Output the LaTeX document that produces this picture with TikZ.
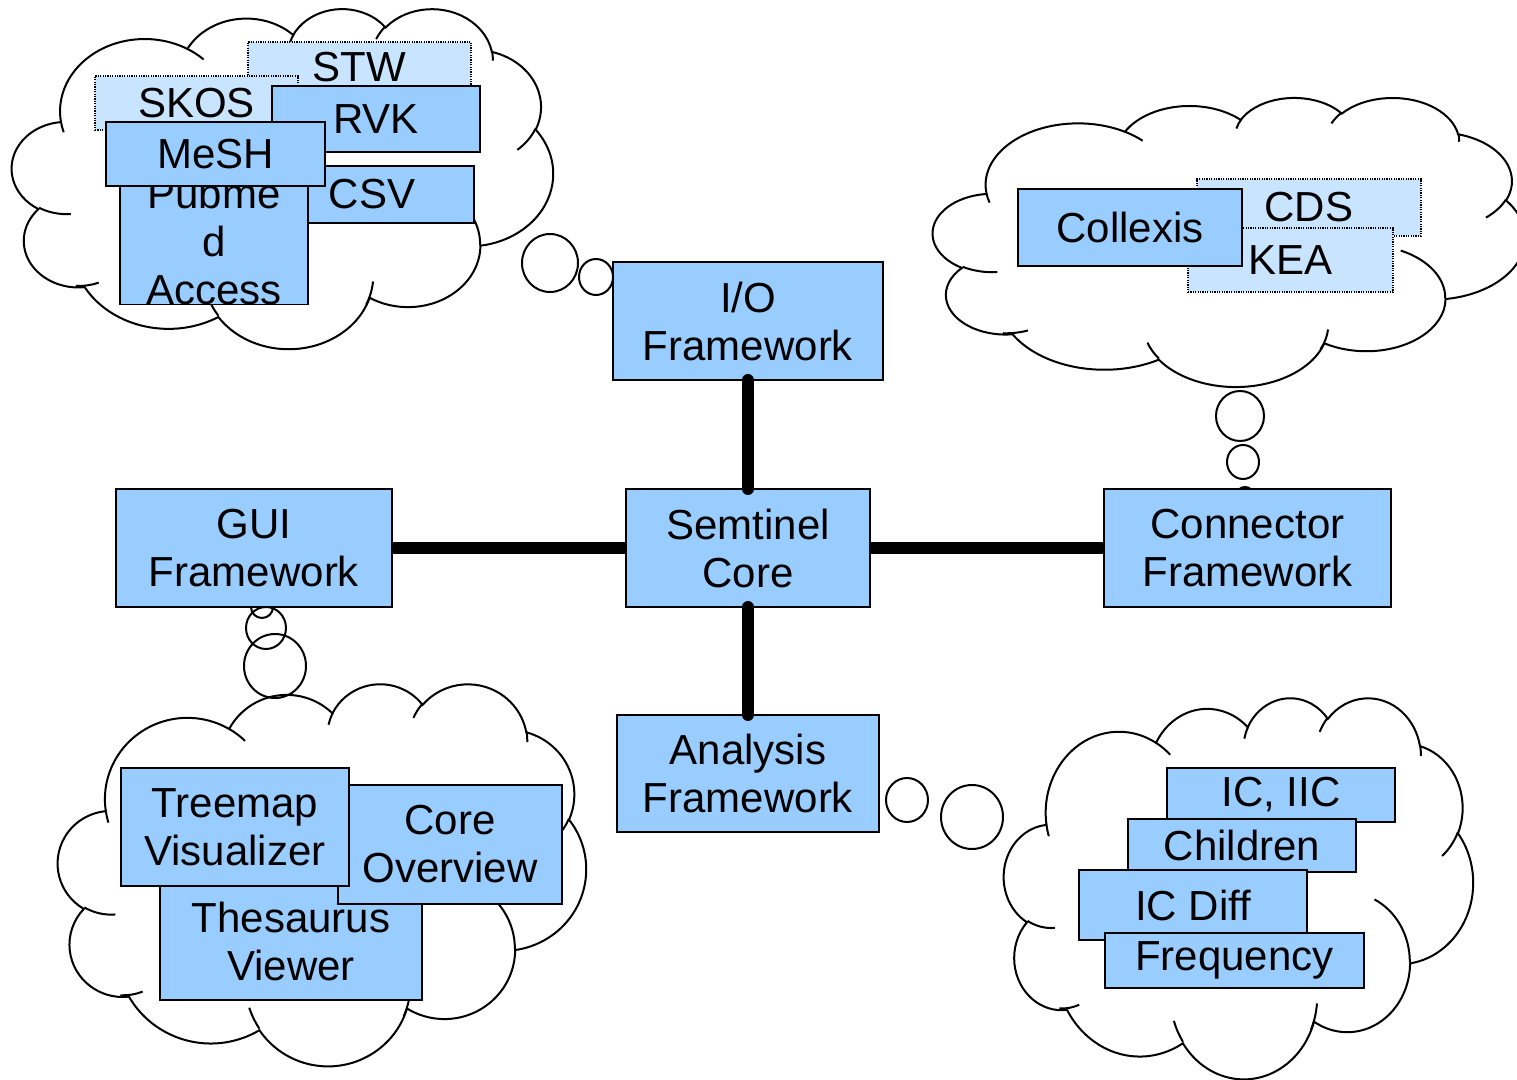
\documentclass[tikz,border=0pt]{standalone}
\usepackage{fontspec}
\setmainfont{Liberation Sans}
\definecolor{boxblue}{HTML}{99CCFF}
\definecolor{lightblue}{HTML}{C8E4FF}
\tikzset{
  mainbox/.style={draw=black, fill=boxblue, line width=0.8pt},
  dotbox/.style={draw=black, fill=lightblue, line width=0.9pt, dash pattern=on 0.6pt off 0.6pt},
  lbl/.style={font=\fontsize{21}{24}\selectfont, align=center},
  cloudline/.style={draw=black, line width=1pt},
  bubble/.style={draw=black, line width=1pt},
  conn/.style={draw=black, line width=6pt},
  ooarc/.style n args={4}{insert path={arc[start angle={atan2((#1)*sin(#3),(#2)*cos(#3))}, delta angle={mod(atan2((#1)*sin((#3)+(#4)),(#2)*cos((#3)+(#4)))-atan2((#1)*sin(#3),(#2)*cos(#3))+720,360)}, x radius=#1, y radius=#2]}},
}
% box: name, x1, y1, x2, y2, style, text   (pixel coordinates, y downwards)
\newcommand\bx[7]{\node[#6, lbl, minimum width={(#4-#2)*0.5pt}, minimum height={(#5-#3)*0.5pt}, inner sep=0pt, outer sep=0pt] (#1) at ({(#2+#4)/2},{-(#3+#5)/2}) {#7};}
% cloud: x0, y0, width, height (pixel coordinates)
\newcommand\ppcloud[4]{%
\begin{scope}[shift={(#1,-#2)}, xscale=#3/43.2, yscale=-#4/43.2]
  \draw[cloudline, fill=white] (3.900,14.370)
    [ooarc={6.753}{9.190}{-190.4875}{123.7805}]
    [ooarc={5.333}{7.267}{-144.1024}{89.9452}]
    [ooarc={4.365}{5.945}{-145.8079}{99.7230}]
    [ooarc={4.857}{6.595}{-130.9861}{117.2417}]
    [ooarc={5.333}{7.273}{-78.7089}{109.0269}]
    [ooarc={6.775}{9.220}{-46.2673}{130.2690}]
    [ooarc={5.785}{7.867}{0.6250}{114.0333}]
    [ooarc={6.752}{9.215}{22.4516}{115.1726}]
    [ooarc={7.720}{10.543}{66.2426}{75.7110}]
    [ooarc={4.360}{5.918}{-274.9421}{146.7356}]
    [ooarc={4.345}{5.945}{-246.8285}{152.5189}] -- cycle;
  \draw[cloudline]
    (4.693,26.177) [ooarc={4.345}{5.945}{86.742}{26.4295}]
    (6.928,34.899) [ooarc={4.360}{5.918}{73.6105}{18.4105}]
    (16.478,39.090) [ooarc={6.752}{9.215}{137.6242}{19.2616}]
    (28.827,34.751) [ooarc={6.752}{9.215}{6.4533}{24.4532}]
    (34.129,22.954) [ooarc={5.785}{7.867}{-70.2924}{70.9174}]
    (41.798,15.354) [ooarc={5.333}{7.273}{30.318}{27.7515}]
    (38.324,5.426) [ooarc={4.857}{6.595}{-13.7443}{14.8589}]
    (29.078,3.952) [ooarc={4.857}{6.595}{-149.1815}{18.1954}]
    (22.141,4.720) [ooarc={4.365}{5.945}{-163.4943}{17.6864}]
    (14.000,5.192) [ooarc={6.753}{9.190}{-66.7070}{12.3194}]
    (4.127,15.789) [ooarc={6.753}{9.190}{157.6544}{11.8582}];
\end{scope}}
\begin{document}
\begin{tikzpicture}[x=0.5pt, y=0.5pt]
\useasboundingbox (0,0) rectangle (1517,-1080);
\clip (0,0) rectangle (1517,-1080);

% clouds
\ppcloud{12}{8}{541}{340}
\ppcloud{933}{97}{592}{289}
\ppcloud{58}{683}{528}{382}
\ppcloud{1004}{697}{469}{381}

% thought bubbles
\draw[bubble] (550,-263) ellipse [x radius=28, y radius=29];
\draw[bubble] (596,-277) ellipse [x radius=17, y radius=18];
\draw[bubble] (1240,-416) ellipse [x radius=24, y radius=25];
\draw[bubble] (1243,-462) ellipse [x radius=16, y radius=17];
\draw[bubble] (1245,-496) ellipse [x radius=9, y radius=9];
\draw[bubble] (275,-666) ellipse [x radius=31, y radius=32];
\draw[bubble] (266,-628) ellipse [x radius=20, y radius=21];
\draw[bubble] (262,-607) ellipse [x radius=11, y radius=11];
\draw[bubble] (907,-800) ellipse [x radius=21, y radius=22];
\draw[bubble] (972,-817) ellipse [x radius=31, y radius=32];

% top-left cloud content
\bx{stw}{248}{42}{471}{92}{dotbox}{STW}
\bx{skos}{95}{76}{298}{130}{dotbox}{SKOS}
\bx{rvk}{272}{86}{480}{152}{mainbox}{RVK}
\bx{csv}{270}{166}{474}{223}{mainbox}{CSV}
\bx{pubmed}{120}{182}{308}{300}{mainbox}{Pubme\\d\\Access}
\bx{mesh}{106}{122}{325}{186}{mainbox}{MeSH}

% top-right cloud content
\bx{cds}{1197}{179}{1421}{236}{dotbox}{CDS}
\bx{kea}{1188}{228}{1393}{292}{dotbox}{KEA}
\bx{collexis}{1018}{189}{1242}{266}{mainbox}{Collexis}

% bottom-left cloud content
\bx{thes}{160}{882}{422}{1000}{mainbox}{Thesaurus\\Viewer}
\bx{coreov}{338}{785}{562}{904}{mainbox}{Core\\Overview}
\bx{treemap}{121}{768}{349}{886}{mainbox}{Treemap\\Visualizer}

% bottom-right cloud content
\bx{iciic}{1167}{768}{1395}{822}{mainbox}{IC, IIC}
\bx{children}{1128}{819}{1356}{872}{mainbox}{Children}
\bx{icdiff}{1079}{870}{1307}{940}{mainbox}{IC Diff}
\bx{freq}{1105}{933}{1364}{988}{mainbox}{Frequency}

% main boxes
\bx{io}{613}{262}{883}{380}{mainbox}{I/O\\Framework}
\bx{core}{626}{489}{870}{607}{mainbox}{Semtinel\\Core}
\bx{gui}{116}{489}{392}{607}{mainbox}{GUI\\Framework}
\bx{connf}{1104}{489}{1391}{607}{mainbox}{Connector\\Framework}
\bx{ana}{617}{715}{879}{832}{mainbox}{Analysis\\Framework}

% connectors
\draw[conn] (gui.east) -- (core.west);
\draw[conn] (core.east) -- (connf.west);
\draw[conn, line cap=round] (io.south) -- (core.north);
\draw[conn, line cap=round] (core.south) -- (ana.north);
\end{tikzpicture}
\end{document}
